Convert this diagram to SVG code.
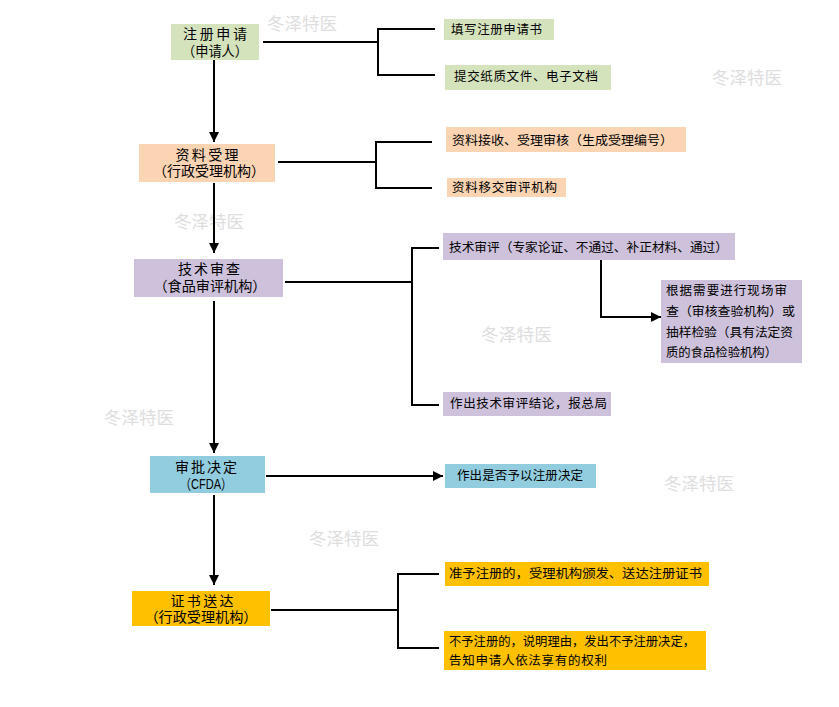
<svg xmlns="http://www.w3.org/2000/svg" width="839" height="707" viewBox="0 0 839 707">
<defs>
<marker id="ah" markerUnits="userSpaceOnUse" markerWidth="11" markerHeight="10" refX="10" refY="5" orient="auto">
<path d="M0,0 L10,5 L0,10 z" fill="#000"/>
</marker>
<style>
.main{font-family:"Liberation Sans","Noto Sans CJK SC",sans-serif;font-size:14px;fill:#000;text-anchor:middle;dominant-baseline:central}
.sub{font-family:"Liberation Sans","Noto Sans CJK SC",sans-serif;font-size:12.5px;fill:#000;dominant-baseline:central}
.wm{font-family:"Noto Sans CJK SC","Noto Sans",sans-serif;font-size:17px;fill:#dedede;dominant-baseline:central}
.con{fill:none;stroke:#000;stroke-width:2}
.g{fill:#d5e3bd}.p{fill:#fbd4b4}.l{fill:#cdc1db}.b{fill:#92cddf}.o{fill:#ffc000}
</style>
</defs>
<rect width="839" height="707" fill="#fff"/>
<g id="watermarks">
<text class="wm" x="267" y="22" textLength="70" lengthAdjust="spacingAndGlyphs">冬泽特医</text>
<text class="wm" x="712" y="76" textLength="70" lengthAdjust="spacingAndGlyphs">冬泽特医</text>
<text class="wm" x="174" y="220" textLength="70" lengthAdjust="spacingAndGlyphs">冬泽特医</text>
<text class="wm" x="481" y="333" textLength="71" lengthAdjust="spacingAndGlyphs">冬泽特医</text>
<text class="wm" x="104" y="416" textLength="70" lengthAdjust="spacingAndGlyphs">冬泽特医</text>
<text class="wm" x="664" y="482" textLength="70" lengthAdjust="spacingAndGlyphs">冬泽特医</text>
<text class="wm" x="309" y="537" textLength="70" lengthAdjust="spacingAndGlyphs">冬泽特医</text>
</g>
<g id="connectors">
<path class="con" d="M214,60 V142" marker-end="url(#ah)"/>
<path class="con" d="M214,183 V253" marker-end="url(#ah)"/>
<path class="con" d="M214,301 V453" marker-end="url(#ah)"/>
<path class="con" d="M214,495 V585" marker-end="url(#ah)"/>
<path class="con" d="M266,476 H443" marker-end="url(#ah)"/>
<path class="con" d="M601,260 V317 H661" marker-end="url(#ah)"/>
<path class="con" d="M263,42 H378 M435,29 H378 V75 H435"/>
<path class="con" d="M278,162 H376 M432,142 H376 V188 H432"/>
<path class="con" d="M285,282 H412 M439,248 H412 V405 H439"/>
<path class="con" d="M271,610 H398 M439,574 H398 V648 H439"/>
</g>
<g id="n1">
<rect class="g" x="171" y="24" width="88" height="36"/>
<text class="main"><tspan x="215" y="34" textLength="64">注册申请</tspan><tspan x="215" y="50.5" textLength="66" lengthAdjust="spacingAndGlyphs">（申请人）</tspan></text>
</g>
<g id="n1a">
<rect class="g" x="444" y="19" width="110" height="21"/>
<text class="sub" x="451" y="29.5" textLength="91">填写注册申请书</text>
</g>
<g id="n1b">
<rect class="g" x="445" y="65" width="166" height="25"/>
<text class="sub" x="454" y="77" textLength="144">提交纸质文件、电子文档</text>
</g>
<g id="n2">
<rect class="p" x="139" y="144" width="136" height="38"/>
<text class="main"><tspan x="207" y="154.5" textLength="63">资料受理</tspan><tspan x="209" y="171" textLength="112" lengthAdjust="spacingAndGlyphs">（行政受理机构）</tspan></text>
</g>
<g id="n2a">
<rect class="p" x="446" y="127" width="240" height="25"/>
<text class="sub" x="452" y="140.5" textLength="221" lengthAdjust="spacingAndGlyphs">资料接收、受理审核（生成受理编号）</text>
</g>
<g id="n2b">
<rect class="p" x="447" y="178" width="119" height="19"/>
<text class="sub" x="452" y="188" textLength="105">资料移交审评机构</text>
</g>
<g id="n3">
<rect class="l" x="134" y="259" width="149" height="38"/>
<text class="main"><tspan x="209" y="269" textLength="62">技术审查</tspan><tspan x="210" y="285.5" textLength="113" lengthAdjust="spacingAndGlyphs">（食品审评机构）</tspan></text>
</g>
<g id="n3a">
<rect class="l" x="443" y="233" width="292" height="27"/>
<text class="sub" x="449" y="247.5" textLength="279" lengthAdjust="spacingAndGlyphs">技术审评（专家论证、不通过、补正材料、通过）</text>
</g>
<g id="n3b">
<rect class="l" x="661" y="280" width="141" height="83"/>
<text class="sub"><tspan x="666" y="291" textLength="121">根据需要进行现场审</tspan><tspan x="666" y="312" textLength="129" lengthAdjust="spacingAndGlyphs">查（审核查验机构）或</tspan><tspan x="666" y="332.5" textLength="127" lengthAdjust="spacingAndGlyphs">抽样检验（具有法定资</tspan><tspan x="666" y="353" textLength="111" lengthAdjust="spacingAndGlyphs">质的食品检验机构）</tspan></text>
</g>
<g id="n3c">
<rect class="l" x="443" y="392" width="168" height="24"/>
<text class="sub" x="450" y="403.5" textLength="157">作出技术审评结论，报总局</text>
</g>
<g id="n4">
<rect class="b" x="150" y="456" width="115" height="37"/>
<text class="main"><tspan x="206" y="466.5" textLength="62">审批决定</tspan><tspan x="206" y="484" textLength="52" lengthAdjust="spacingAndGlyphs">（CFDA）</tspan></text>
</g>
<g id="n4a">
<rect class="b" x="445" y="464" width="151" height="24"/>
<text class="sub" x="457" y="476" textLength="126">作出是否予以注册决定</text>
</g>
<g id="n5">
<rect class="o" x="132" y="591" width="138" height="35"/>
<text class="main"><tspan x="202" y="600.5" textLength="63">证书送达</tspan><tspan x="201" y="617" textLength="113" lengthAdjust="spacingAndGlyphs">（行政受理机构）</tspan></text>
</g>
<g id="n5a">
<rect class="o" x="445" y="562" width="264" height="24"/>
<text class="sub" x="449" y="573.5" textLength="253" lengthAdjust="spacingAndGlyphs">准予注册的，受理机构颁发、送达注册证书</text>
</g>
<g id="n5b">
<rect class="o" x="444" y="631" width="262" height="39"/>
<text class="sub"><tspan x="449" y="642" textLength="246" lengthAdjust="spacingAndGlyphs">不予注册的，说明理由，发出不予注册决定，</tspan><tspan x="449" y="661" textLength="158">告知申请人依法享有的权利</tspan></text>
</g>
</svg>
